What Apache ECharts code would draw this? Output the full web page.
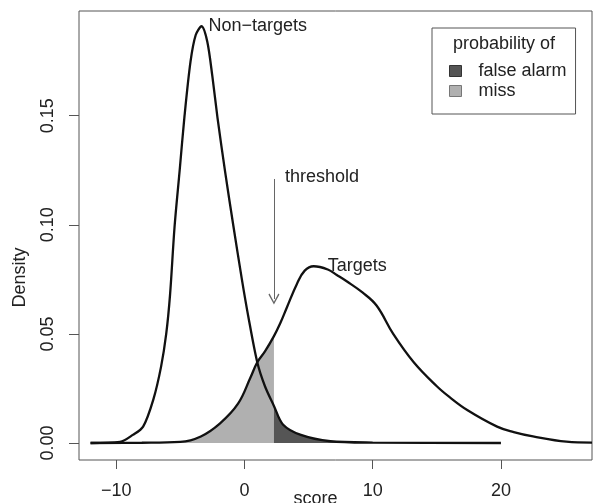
<!DOCTYPE html>
<html>
<head>
<meta charset="utf-8">
<script src="https://cdn.jsdelivr.net/npm/echarts@6/dist/echarts.min.js"></script>
<style>
  html, body { margin: 0; padding: 0; background: #fff; }
  #chart { width: 593px; height: 503px; }
</style>
</head>
<body>
<div id="chart"></div>
<script>
// density curves
const nonTargetScore = [-12.0, -9.7, -8.7, -7.9, -7.1, -6.5, -6.1, -5.8, -5.45, -5.05, -4.67, -4.2, -3.8, -3.35, -2.9, -2.5, -2.1, -1.5, -0.85, -0.2, 0.3, 1.0, 1.6, 2.3, 3.0, 4.4, 6.7, 10.0, 20.0];
const nonTargetDensity = [0, 0.0005, 0.0037, 0.0075, 0.020, 0.035, 0.050, 0.068, 0.099, 0.125, 0.150, 0.175, 0.187, 0.191, 0.184, 0.168, 0.149, 0.124, 0.099, 0.075, 0.058, 0.037, 0.026, 0.017, 0.0085, 0.0037, 0.0008, 0.0002, 0];

const targetScore = [-12.0, -8.0, -5.0, -3.4, -1.9, -0.5, 0.47, 1.0, 1.6, 2.3, 2.8, 3.3, 4.1, 4.7, 5.4, 6.5, 7.2, 8.0, 9.2, 10.3, 11.6, 13.2, 15.0, 16.0, 17.4, 19.7, 21.0, 22.5, 25.1, 27.1];
const targetDensity = [0, 0.0001, 0.0005, 0.003, 0.009, 0.018, 0.030, 0.037, 0.042, 0.049, 0.055, 0.062, 0.073, 0.079, 0.081, 0.0795, 0.077, 0.074, 0.069, 0.063, 0.050, 0.037, 0.026, 0.021, 0.015, 0.0075, 0.005, 0.003, 0.0006, 0.0002];

const threshold = 2.3;
const xTicks = [-10, 0, 10, 20];
const yTicks = [0, 0.05, 0.10, 0.15];

const FONT = 'Liberation Sans, Arial, sans-serif';
const FS = 18;
const TXT = '#222';

const nonTargets = nonTargetScore.map((x, i) => [x, nonTargetDensity[i]]);
const targets = targetScore.map((x, i) => [x, targetDensity[i]]);

const myChart = echarts.init(document.getElementById('chart'));
myChart.setOption({
  animation: false,
  grid: {
    left: 79, right: 1, top: 11, bottom: 43,
    outerBoundsMode: 'none',
    show: true, borderColor: '#555', borderWidth: 1
  },
  legend: {
    orient: 'vertical',
    left: 432, top: 28,
    padding: [34, 9, 14, 17],
    itemGap: 2,
    itemWidth: 12, itemHeight: 11,
    borderColor: '#555', borderWidth: 1,
    textStyle: { fontFamily: FONT, fontSize: FS, color: TXT, padding: [0, 0, 0, 12] },
    data: [
      { name: 'false alarm', icon: 'rect', itemStyle: { color: '#555', borderColor: '#333', borderWidth: 1 } },
      { name: 'miss', icon: 'rect', itemStyle: { color: '#b0b0b0', borderColor: '#777', borderWidth: 1 } }
    ]
  },
  graphic: [{
    type: 'text', left: 453, top: 35,
    style: { text: 'probability of', font: FS + 'px ' + FONT, fill: TXT }
  }],
  xAxis: {
    type: 'value',
    min: -12.9, max: 27.1,
    name: 'score', nameLocation: 'middle', nameGap: 30, nameMoveOverlap: false,
    nameTextStyle: { fontFamily: FONT, fontSize: FS, color: TXT, padding: [0, 40, 0, 0] },
    axisLine: { show: false, onZero: false },
    splitLine: { show: false },
    axisTick: { show: true, customValues: xTicks, length: 9, lineStyle: { color: '#555' } },
    axisLabel: {
      customValues: xTicks, margin: 22,
      fontFamily: FONT, fontSize: FS, color: TXT,
      formatter: v => String(v).replace('-', '\u2212')
    }
  },
  yAxis: {
    type: 'value',
    min: -0.0078, max: 0.198,
    name: 'Density', nameLocation: 'middle', nameGap: 50, nameRotate: 90, nameMoveOverlap: false,
    nameTextStyle: { fontFamily: FONT, fontSize: FS, color: TXT, padding: [0, 84, 0, 0] },
    axisLine: { show: false, onZero: false },
    splitLine: { show: false },
    axisTick: { show: true, customValues: yTicks, length: 10, lineStyle: { color: '#555' } },
    axisLabel: {
      customValues: yTicks, rotate: 90, margin: 22,
      fontFamily: FONT, fontSize: FS, color: TXT,
      formatter: v => v.toFixed(2)
    }
  },
  series: [
    {
      name: 'miss', type: 'line',
      data: targets.filter(p => p[0] <= threshold),
      smooth: 0.4, showSymbol: false, silent: true,
      itemStyle: { color: '#b0b0b0' },
      lineStyle: { width: 0 },
      areaStyle: { color: '#b0b0b0', opacity: 1 },
      z: 1
    },
    {
      name: 'false alarm', type: 'line',
      data: nonTargets.filter(p => p[0] >= threshold),
      smooth: 0.3, showSymbol: false, silent: true,
      itemStyle: { color: '#555' },
      lineStyle: { width: 0 },
      areaStyle: { color: '#555', opacity: 1 },
      z: 2
    },
    {
      name: 'Non-targets', type: 'line',
      data: nonTargets,
      smooth: 0.3, showSymbol: false,
      lineStyle: { color: '#111', width: 2.3 },
      itemStyle: { color: '#111' },
      z: 3,
      markPoint: {
        symbol: 'circle', symbolSize: 0, silent: true,
        data: [{
          coord: [-3.35, 0.191],
          label: { show: true, position: 'right', distance: 7, formatter: 'Non\u2212targets', fontFamily: FONT, fontSize: FS, color: TXT }
        }]
      }
    },
    {
      name: 'Targets', type: 'line',
      data: targets,
      smooth: 0.4, showSymbol: false,
      lineStyle: { color: '#111', width: 2.3 },
      itemStyle: { color: '#111' },
      z: 3,
      markPoint: {
        symbol: 'circle', symbolSize: 0, silent: true,
        data: [
          {
            coord: [5.4, 0.081],
            label: { show: true, position: 'right', distance: 14, formatter: 'Targets', fontFamily: FONT, fontSize: FS, color: TXT }
          },
          {
            coord: [threshold, 0.122],
            label: { show: true, position: 'right', distance: 11, formatter: 'threshold', fontFamily: FONT, fontSize: FS, color: TXT }
          }
        ]
      },
      markLine: {
        silent: true,
        symbol: ['none', 'path://M5,0 L10,9 L9,10 L5,2.6 L1,10 L0,9 Z'],
        symbolSize: 11,
        lineStyle: { color: '#666', width: 1, type: 'solid' },
        label: { show: false },
        data: [[{ coord: [threshold, 0.121] }, { coord: [threshold, 0.066] }]]
      }
    }
  ]
});
</script>
</body>
</html>
